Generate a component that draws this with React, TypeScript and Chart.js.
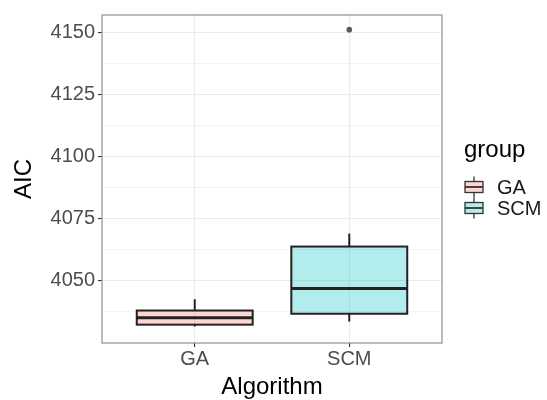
import React, { useEffect, useRef } from "react";
import { Chart, registerables } from "chart.js";

Chart.register(...registerables);

// ---- data ----
const categories = ["GA", "SCM"];
const q1 = [4032.2, 4036.6];
const median = [4035.0, 4046.8];
const q3 = [4037.9, 4063.7];
const whiskerLow = [4031.5, 4033.5];
const whiskerHigh = [4042.4, 4069.0];
const outliers: number[][] = [[], [4151.2]];
const fills = ["rgba(248,118,109,0.3)", "rgba(0,191,196,0.3)"];

const yMajorTicks = [4050, 4075, 4100, 4125, 4150];
const yMinorTicks = [4037.5, 4062.5, 4087.5, 4112.5, 4137.5];
const yMin = 4024.8;
const yMax = 4157.1;

const FONT = "'Liberation Sans', Arial, Helvetica, sans-serif";
const LINE = "#222222";

const boxPlugin = {
  id: "boxes",
  beforeDatasetsDraw(chart: any) {
    const { ctx, scales } = chart;
    const xs = scales.x;
    const ys = scales.y;
    categories.forEach((_, i) => {
      const pos = i + 1;
      const xc = xs.getPixelForValue(pos);
      const x0 = xs.getPixelForValue(pos - 0.375);
      const x1 = xs.getPixelForValue(pos + 0.375);
      const yq1 = ys.getPixelForValue(q1[i]);
      const yq3 = ys.getPixelForValue(q3[i]);
      const ym = ys.getPixelForValue(median[i]);
      const ylo = ys.getPixelForValue(whiskerLow[i]);
      const yhi = ys.getPixelForValue(whiskerHigh[i]);
      ctx.save();
      ctx.strokeStyle = LINE;
      ctx.lineWidth = 2;
      ctx.beginPath();
      ctx.moveTo(xc, yq3);
      ctx.lineTo(xc, yhi);
      ctx.moveTo(xc, yq1);
      ctx.lineTo(xc, ylo);
      ctx.stroke();
      ctx.fillStyle = fills[i];
      ctx.fillRect(x0, yq3, x1 - x0, yq1 - yq3);
      ctx.strokeRect(x0, yq3, x1 - x0, yq1 - yq3);
      ctx.lineWidth = 3;
      ctx.beginPath();
      ctx.moveTo(x0, ym);
      ctx.lineTo(x1, ym);
      ctx.stroke();
      ctx.restore();
    });
  },
  afterDraw(chart: any) {
    const { ctx, chartArea } = chart;
    ctx.save();
    ctx.strokeStyle = "#8f8f8f";
    ctx.lineWidth = 1.2;
    ctx.strokeRect(
      chartArea.left,
      chartArea.top,
      chartArea.right - chartArea.left,
      chartArea.bottom - chartArea.top
    );
    // legend
    ctx.fillStyle = "#000";
    ctx.font = `24px ${FONT}`;
    ctx.textAlign = "left";
    ctx.textBaseline = "alphabetic";
    ctx.fillText("group", 464, 157);
    const keyCenters = [187, 208];
    categories.forEach((c, i) => {
      const cy = keyCenters[i];
      const bx0 = 465;
      const bw = 18;
      const bh = 11;
      const cx = bx0 + bw / 2;
      ctx.strokeStyle = "#333";
      ctx.lineWidth = 1.3;
      ctx.beginPath();
      ctx.moveTo(cx, cy - 10.5);
      ctx.lineTo(cx, cy - bh / 2);
      ctx.moveTo(cx, cy + bh / 2);
      ctx.lineTo(cx, cy + 10.5);
      ctx.stroke();
      ctx.fillStyle = fills[i];
      ctx.fillRect(bx0, cy - bh / 2, bw, bh);
      ctx.strokeRect(bx0, cy - bh / 2, bw, bh);
      ctx.lineWidth = 1.8;
      ctx.beginPath();
      ctx.moveTo(bx0, cy);
      ctx.lineTo(bx0 + bw, cy);
      ctx.stroke();
      ctx.fillStyle = "#1a1a1a";
      ctx.font = `20px ${FONT}`;
      ctx.textBaseline = "middle";
      ctx.fillText(c, 497, cy + 1);
    });
    ctx.restore();
  },
};

export default function App() {
  const ref = useRef<HTMLCanvasElement | null>(null);
  useEffect(() => {
    if (!ref.current) return;
    const points: { x: number; y: number }[] = [];
    outliers.forEach((arr, i) => arr.forEach((v) => points.push({ x: i + 1, y: v })));
    const chart = new Chart(ref.current, {
      type: "scatter",
      data: {
        datasets: [
          {
            data: points,
            pointRadius: 2.8,
            pointBackgroundColor: "#5a5a5a",
            pointBorderWidth: 0,
            pointHoverRadius: 2.8,
          },
        ],
      },
      options: {
        animation: false,
        responsive: false,
        events: [],
        layout: { padding: { top: 14, right: 105, left: 0, bottom: 0 } },
        plugins: { legend: { display: false }, tooltip: { enabled: false } },
        scales: {
          x: {
            type: "linear",
            min: 0.4,
            max: 2.6,
            afterBuildTicks: (s: any) => {
              s.ticks = categories.map((_, i) => ({ value: i + 1 }));
            },
            afterFit: (s: any) => {
              s.height = 57;
            },
            ticks: {
              autoSkip: false,
              maxRotation: 0,
              callback: (v: any) => categories[Math.round(Number(v)) - 1] ?? "",
              font: { size: 20, family: FONT },
              color: "#4D4D4D",
              padding: 0,
            },
            grid: {
              color: "#EBEBEB",
              lineWidth: 1.1,
              tickLength: 4,
              tickColor: "#333333",
              tickWidth: 1.1,
            },
            border: { display: false },
            title: {
              display: true,
              text: "Algorithm",
              font: { size: 24, family: FONT, lineHeight: 1 },
              color: "#000",
              padding: { top: 0, bottom: 1 },
            },
          },
          y: {
            type: "linear",
            min: yMin,
            max: yMax,
            afterBuildTicks: (s: any) => {
              s.ticks = [...yMinorTicks, ...yMajorTicks]
                .sort((a, b) => a - b)
                .map((v) => ({ value: v }));
            },
            afterFit: (s: any) => {
              s.width = 102;
            },
            ticks: {
              autoSkip: false,
              callback: (v: any) => (yMajorTicks.includes(Number(v)) ? String(v) : ""),
              font: { size: 20, family: FONT },
              color: "#4D4D4D",
              padding: 3,
            },
            grid: {
              color: "#EBEBEB",
              lineWidth: (c: any) => (yMajorTicks.includes(c.tick?.value) ? 1.1 : 0.6),
              tickLength: 4,
              tickColor: (c: any) =>
                yMajorTicks.includes(c.tick?.value) ? "#333333" : "rgba(0,0,0,0)",
              tickWidth: 1.1,
            },
            border: { display: false },
            title: {
              display: true,
              text: "AIC",
              font: { size: 24, family: FONT, lineHeight: 1.2 },
              color: "#000",
              padding: { top: 9.5, bottom: 0 },
            },
          },
        },
      },
      plugins: [boxPlugin],
    });
    return () => chart.destroy();
  }, []);
  return (
    <div style={{ position: "fixed", left: 0, top: 0, width: 547, height: 400, background: "#fff" }}>
      <canvas ref={ref} width={547} height={400} style={{ display: "block" }} />
    </div>
  );
}
